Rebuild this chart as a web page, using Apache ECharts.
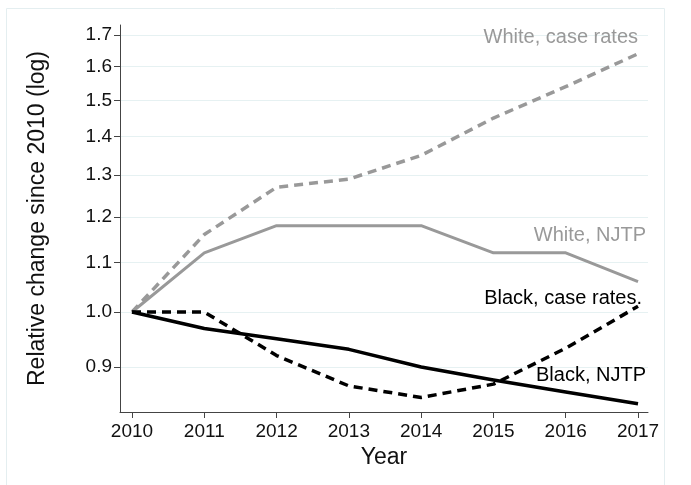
<!DOCTYPE html>
<html>
<head>
<meta charset="utf-8">
<script src="https://cdn.jsdelivr.net/npm/echarts@6/dist/echarts.min.js"></script>
<style>html,body{margin:0;padding:0;background:#fff}#c{width:691px;height:485px}</style>
</head>
<body>
<div id="c"></div>
<script>
const years = [2010, 2011, 2012, 2013, 2014, 2015, 2016, 2017];
const whiteCaseRates = [1.0, 1.16, 1.27, 1.29, 1.35, 1.45, 1.54, 1.64];
const whiteNJTP = [1.0, 1.12, 1.18, 1.18, 1.18, 1.12, 1.12, 1.06];
const blackCaseRates = [1.0, 1.0, 0.92, 0.868, 0.849, 0.871, 0.933, 1.011];
const blackNJTP = [1.0, 0.969, 0.95, 0.931, 0.90, 0.878, 0.858, 0.839];
const yTicks = [0.9, 1.0, 1.1, 1.2, 1.3, 1.4, 1.5, 1.6, 1.7];
const seriesNames = ['White, case rates', 'White, NJTP', 'Black, case rates.', 'Black, NJTP'];

const FONT = '"Liberation Sans", Arial, sans-serif';
const GRAY = '#999999';
const BLACK = '#000000';

function pts(vals) { return years.map((y, i) => [y, vals[i]]); }

function mkSeries(name, vals, color, dashed, width, labelOffset) {
  return {
    name: name,
    type: 'line',
    data: pts(vals),
    showSymbol: false,
    symbol: 'none',
    animation: false,
    lineStyle: { color: color, width: width, type: dashed ? [9, 6] : 'solid', cap: 'butt', join: 'round' },
    endLabel: {
      show: true,
      formatter: name,
      color: color,
      fontFamily: FONT,
      fontSize: 20,
      align: 'right',
      verticalAlign: 'middle',
      offset: labelOffset
    }
  };
}

const chart = echarts.init(document.getElementById('c'), null, { renderer: 'canvas' });
chart.setOption({
  backgroundColor: '#ffffff',
  animation: false,
  graphic: [{
    type: 'rect',
    shape: { x: 6.5, y: 8.5, width: 658, height: 500 },
    style: { fill: 'none', stroke: '#e4eef0', lineWidth: 1 },
    silent: true, z: -1
  }],
  grid: { left: 120, right: 43, top: 25, bottom: 73, containLabel: false },
  xAxis: {
    type: 'value',
    min: 2009.834,
    max: 2017.138,
    name: 'Year',
    nameLocation: 'middle',
    nameGap: 32,
    nameTextStyle: { fontFamily: FONT, fontSize: 23, color: '#111' },
    axisLine: { show: true, onZero: false, lineStyle: { color: '#444', width: 1 } },
    axisTick: { show: true, length: 6, inside: false, customValues: years, lineStyle: { color: '#444' } },
    axisLabel: { customValues: years, fontFamily: FONT, fontSize: 19, color: '#111', margin: 10, formatter: v => String(v) },
    splitLine: { show: false }
  },
  yAxis: {
    type: 'log',
    logBase: 10,
    min: 0.8257,
    max: 1.733,
    name: 'Relative change since 2010 (log)',
    nameLocation: 'middle',
    nameGap: 71,
    nameRotate: 90,
    nameTextStyle: { fontFamily: FONT, fontSize: 23, color: '#111' },
    axisLine: { show: true, lineStyle: { color: '#444', width: 1 } },
    axisTick: { show: true, length: 6, customValues: yTicks, lineStyle: { color: '#444' } },
    axisLabel: { customValues: yTicks, fontFamily: FONT, fontSize: 19, color: '#111', margin: 8, formatter: v => Number(v).toFixed(1) },
    splitLine: { show: true, lineStyle: { color: '#e6f1f2', width: 1 } }
  },
  series: [
    mkSeries(seriesNames[0], whiteCaseRates, GRAY, true, 3.5, [-8, -16]),
    mkSeries(seriesNames[1], whiteNJTP, GRAY, false, 3, [0, -46]),
    mkSeries(seriesNames[2], blackCaseRates, BLACK, true, 3.5, [-4, -8]),
    mkSeries(seriesNames[3], blackNJTP, BLACK, false, 3.5, [0, -28])
  ]
});
</script>
</body>
</html>
